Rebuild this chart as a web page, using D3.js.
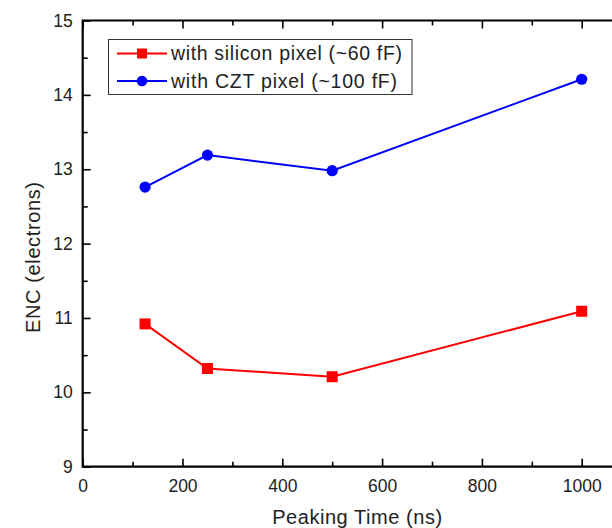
<!DOCTYPE html>
<html>
<head>
<meta charset="utf-8">
<script src="https://cdn.jsdelivr.net/npm/d3@7"></script>
<style>
  html, body { margin: 0; padding: 0; background: #fff; }
  svg { display: block; font-family: "Liberation Sans", Arial, sans-serif; }
</style>
</head>
<body>
<svg id="chart" width="612" height="528"></svg>
<script>
// Peaking time (ns) and ENC (electrons) for both pixel types
const peakingTimes = [125, 250, 500, 1000];
const siliconENC = [10.92, 10.32, 10.21, 11.09];
const cztENC = [12.76, 13.19, 12.98, 14.21];
const seriesNames = ["with silicon pixel (~60 fF)", "with CZT pixel (~100 fF)"];
const xTicks = [0, 200, 400, 600, 800, 1000];
const yTicks = [9, 10, 11, 12, 13, 14, 15];

(function () {
  const svg = d3.select("#chart");
  const plotLeft = 82.7, plotTop = 20.5, plotBottom = 466.7;
  const plotRight = 631.6;

  const x = d3.scaleLinear().domain([0, 1100]).range([plotLeft, plotRight]);
  const y = d3.scaleLinear().domain([9, 15]).range([plotBottom, plotTop]);

  const g = svg.append("g");

  // minor tick positions
  const xMinor = d3.range(100, 1100, 200);
  const yMinor = d3.range(9.5, 15, 1);

  function styleAxis(sel) {
    sel.select(".domain").remove();
    sel.selectAll(".tick line").attr("stroke", "#000").attr("stroke-width", 1.6);
    sel.selectAll(".tick text").attr("fill", "#222").attr("font-size", 17.5)
       .attr("font-family", "Liberation Sans, Arial, sans-serif");
  }

  // bottom axis
  g.append("g").attr("transform", `translate(0,${plotBottom})`)
    .call(d3.axisBottom(x).tickValues(xTicks).tickSize(-8).tickPadding(12.5).tickFormat(d3.format("d")))
    .call(styleAxis);
  g.append("g").attr("transform", `translate(0,${plotBottom})`)
    .call(d3.axisBottom(x).tickValues(xMinor).tickSize(-5).tickFormat(""))
    .call(styleAxis);
  // top axis (mirror ticks)
  g.append("g").attr("transform", `translate(0,${plotTop})`)
    .call(d3.axisTop(x).tickValues(xTicks).tickSize(-8).tickFormat(""))
    .call(styleAxis);
  g.append("g").attr("transform", `translate(0,${plotTop})`)
    .call(d3.axisTop(x).tickValues(xMinor).tickSize(-5).tickFormat(""))
    .call(styleAxis);
  // left axis
  g.append("g").attr("transform", `translate(${plotLeft},0)`)
    .call(d3.axisLeft(y).tickValues(yTicks).tickSize(-8).tickPadding(10).tickFormat(d3.format("d")))
    .call(styleAxis);
  g.append("g").attr("transform", `translate(${plotLeft},0)`)
    .call(d3.axisLeft(y).tickValues(yMinor).tickSize(-5).tickFormat(""))
    .call(styleAxis);

  // frame
  g.append("path")
    .attr("d", `M${plotRight},${plotTop}H${plotLeft}V${plotBottom}H${plotRight}`)
    .attr("fill", "none").attr("stroke", "#000").attr("stroke-width", 2.2);

  // axis titles
  svg.append("text")
    .attr("x", (plotLeft + plotRight) / 2).attr("y", 524)
    .attr("text-anchor", "middle").attr("font-size", 20).attr("fill", "#222")
    .attr("textLength", 170)
    .text("Peaking Time (ns)");
  svg.append("text")
    .attr("transform", `translate(39.5,257.5) rotate(-90)`)
    .attr("text-anchor", "middle").attr("font-size", 20).attr("fill", "#222")
    .attr("textLength", 151)
    .text("ENC (electrons)");

  const line = d3.line().x(d => x(d[0])).y(d => y(d[1]));
  const siliconPts = peakingTimes.map((t, i) => [t, siliconENC[i]]);
  const cztPts = peakingTimes.map((t, i) => [t, cztENC[i]]);

  // silicon series (red squares)
  g.append("path").datum(siliconPts).attr("d", line)
    .attr("fill", "none").attr("stroke", "#ff0000").attr("stroke-width", 2);
  g.selectAll("rect.si").data(siliconPts).enter().append("rect")
    .attr("class", "si")
    .attr("x", d => x(d[0]) - 5.5).attr("y", d => y(d[1]) - 5.5)
    .attr("width", 11).attr("height", 11).attr("fill", "#ff0000");

  // CZT series (blue circles)
  g.append("path").datum(cztPts).attr("d", line)
    .attr("fill", "none").attr("stroke", "#0000ff").attr("stroke-width", 2);
  g.selectAll("circle.czt").data(cztPts).enter().append("circle")
    .attr("class", "czt")
    .attr("cx", d => x(d[0])).attr("cy", d => y(d[1])).attr("r", 5.6)
    .attr("fill", "#0000ff");

  // legend
  const lg = svg.append("g");
  lg.append("rect").attr("x", 108.5).attr("y", 39.5).attr("width", 303.5).attr("height", 55)
    .attr("fill", "#fff").attr("stroke", "#333").attr("stroke-width", 1);
  const rows = [
    { name: seriesNames[0], color: "#ff0000", shape: "square", yy: 53.5, len: 231 },
    { name: seriesNames[1], color: "#0000ff", shape: "circle", yy: 81, len: 226 }
  ];
  rows.forEach(r => {
    lg.append("line").attr("x1", 117).attr("x2", 167).attr("y1", r.yy).attr("y2", r.yy)
      .attr("stroke", r.color).attr("stroke-width", 2);
    if (r.shape === "square") {
      lg.append("rect").attr("x", 142 - 5).attr("y", r.yy - 5).attr("width", 10).attr("height", 10)
        .attr("fill", r.color);
    } else {
      lg.append("circle").attr("cx", 142).attr("cy", r.yy).attr("r", 5.3).attr("fill", r.color);
    }
    lg.append("text").attr("x", 171).attr("y", r.yy + 6.5).attr("font-size", 19.5)
      .attr("textLength", r.len)
      .attr("fill", "#222").text(r.name);
  });
})();
</script>
</body>
</html>
